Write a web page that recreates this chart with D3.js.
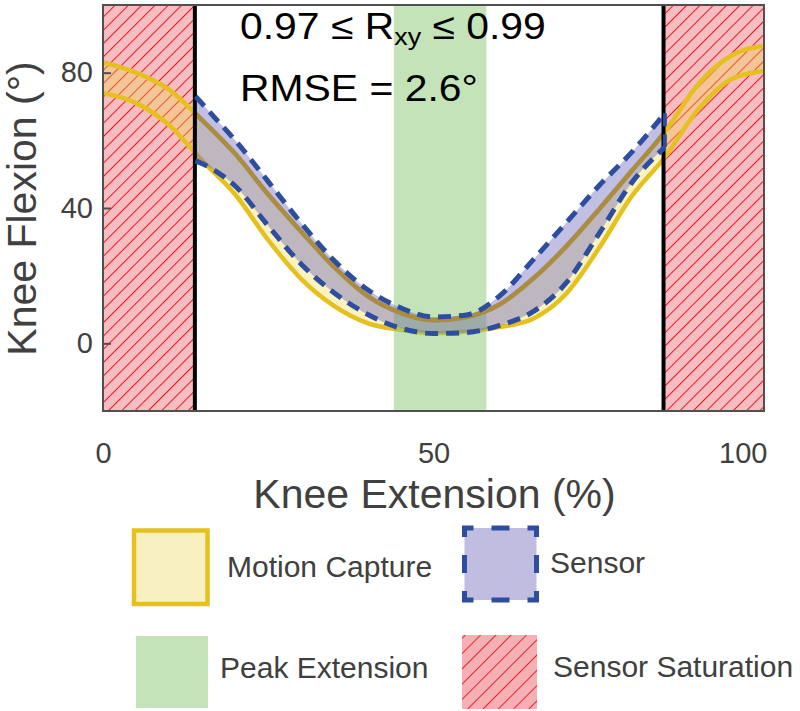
<!DOCTYPE html>
<html><head><meta charset="utf-8">
<script src="https://cdn.jsdelivr.net/npm/d3@7"></script>
<style>body{margin:0;background:#fff} svg{display:block}</style>
</head><body>
<svg id="chart" width="800" height="711"></svg>
<script>
// ---------- data ----------
const xMocap      = [0, 5, 10, 15, 20, 25, 30, 35, 40, 45, 50, 55, 60, 65, 70, 75, 80, 85, 90, 95, 100];
const mocapUpper  = [83, 80, 75, 66, 56, 44, 33, 22.5, 14, 9, 6.8, 7.8, 11.5, 19, 28.5, 39.5, 51, 62.5, 76.5, 85, 88];
const mocapLower  = [74, 71, 64.5, 54, 44, 30.5, 19, 11, 6, 4, 3, 3.5, 4.8, 7.2, 14.5, 28, 43.5, 55, 69, 78, 80.5];
const xSensor     = [14, 17, 20, 25, 30, 35, 40, 45, 50, 55, 60, 65, 70, 75, 80, 85];
const sensorUpper = [73, 66.5, 60, 47.8, 35.5, 24.4, 15.9, 10.5, 7.8, 8.4, 14, 24.5, 35.5, 46.5, 56.5, 68];
const sensorLower = [54, 51, 46.5, 34.7, 23.4, 14.9, 8.6, 4.5, 2.9, 3.2, 5.3, 9.3, 17.7, 32.3, 47.5, 58];
const peakExtension   = [44, 58];
const saturationLeft  = [0, 13.9];
const saturationRight = [84.8, 100];
const xTicks = [0, 50, 100];
const yTicks = [0, 40, 80];
const xDomain = [0, 100];
const yDomain = [-20, 100];
const xLabel = "Knee Extension (%)";
const yLabel = "Knee Flexion (°)";
const legendLabels = ["Motion Capture", "Sensor", "Peak Extension", "Sensor Saturation"];

// ---------- styles ----------
const FONT = "'Liberation Sans', Arial, Helvetica, sans-serif";
const YELLOW = "#E6C01E", BLUE = "#2D4E9E", BROWN = "#AA8C42", TXT = "#404040";

const svg = d3.select("#chart");
const x = d3.scaleLinear().domain(xDomain).range([103, 764]);
const y = d3.scaleLinear().domain(yDomain).range([411, 5]);

const defs = svg.append("defs");
defs.append("clipPath").attr("id", "plotclip").append("rect")
  .attr("x", x(0)).attr("y", y(100)).attr("width", x(100) - x(0)).attr("height", y(-20) - y(100));
defs.append("clipPath").attr("id", "sensorclip").append("rect")
  .attr("x", x(xSensor[0])).attr("y", y(100)).attr("width", x(xSensor[xSensor.length-1]) - x(xSensor[0]))
  .attr("height", y(-20) - y(100));
function hatch(id, s, w) {
  const p = defs.append("pattern").attr("id", id).attr("patternUnits", "userSpaceOnUse")
    .attr("width", s).attr("height", s).attr("patternTransform", "rotate(45)");
  p.append("line").attr("x1", 0).attr("y1", 0).attr("x2", 0).attr("y2", s)
    .attr("stroke", "#E8141E").attr("stroke-width", w);
}
hatch("hatchPlot", 9.4, 2);
hatch("hatchLeg", 10.8, 1.8);

const plot = svg.append("g").attr("clip-path", "url(#plotclip)");

// saturation regions
[saturationLeft, saturationRight].forEach(r => {
  plot.append("rect").attr("x", x(r[0])).attr("y", y(100)).attr("width", x(r[1]) - x(r[0]))
    .attr("height", y(-20) - y(100)).attr("fill", "#F7BDC1");
  plot.append("rect").attr("x", x(r[0])).attr("y", y(100)).attr("width", x(r[1]) - x(r[0]))
    .attr("height", y(-20) - y(100)).attr("fill", "url(#hatchPlot)");
});

// motion capture band
const mocap = xMocap.map((d, i) => ({x: d, lo: mocapLower[i], hi: mocapUpper[i]}));
const curve = d3.curveMonotoneX;
plot.append("path").datum(mocap)
  .attr("d", d3.area().x(d => x(d.x)).y0(d => y(d.lo)).y1(d => y(d.hi)).curve(curve))
  .attr("fill", "#F0D83C").attr("fill-opacity", 0.32);
["hi", "lo"].forEach(k => {
  plot.append("path").datum(mocap)
    .attr("d", d3.line().x(d => x(d.x)).y(d => y(d[k])).curve(curve))
    .attr("fill", "none").attr("stroke", YELLOW).attr("stroke-width", 4.5);
});

// peak extension band
plot.append("rect").attr("x", x(peakExtension[0])).attr("y", y(100))
  .attr("width", x(peakExtension[1]) - x(peakExtension[0])).attr("height", y(-20) - y(100))
  .attr("fill", "#8CC873").attr("fill-opacity", 0.5);

// sensor band fill
const sensor = xSensor.map((d, i) => ({x: d, lo: sensorLower[i], hi: sensorUpper[i]}));
plot.append("path").datum(sensor)
  .attr("d", d3.area().x(d => x(d.x)).y0(d => y(d.lo)).y1(d => y(d.hi)).curve(curve))
  .attr("fill", "#6E66BE").attr("fill-opacity", 0.42);

// motion capture upper bound as seen through the sensor band
plot.append("g").attr("clip-path", "url(#sensorclip)").append("path").datum(mocap)
  .attr("d", d3.line().x(d => x(d.x)).y(d => y(d.hi)).curve(curve))
  .attr("fill", "none").attr("stroke", BROWN).attr("stroke-width", 4.5);

// saturation boundaries
[saturationLeft[1], saturationRight[0]].forEach(v => {
  plot.append("line").attr("x1", x(v)).attr("x2", x(v)).attr("y1", y(100)).attr("y2", y(-20))
    .attr("stroke", "#000").attr("stroke-width", 4);
});

// sensor dashed bounds
["hi", "lo"].forEach(k => {
  plot.append("path").datum(sensor)
    .attr("d", d3.line().x(d => x(d.x)).y(d => y(d[k])).curve(curve))
    .attr("fill", "none").attr("stroke", BLUE).attr("stroke-width", 5)
    .attr("stroke-dasharray", "13,8");
});
plot.append("line").attr("x1", x(xSensor[xSensor.length-1])).attr("x2", x(xSensor[xSensor.length-1]))
  .attr("y1", y(sensorUpper[sensorUpper.length-1])).attr("y2", y(sensorLower[sensorLower.length-1]))
  .attr("stroke", BLUE).attr("stroke-width", 4).attr("stroke-dasharray", "13,8");

// axes
svg.append("rect").attr("x", x(0)).attr("y", y(100)).attr("width", x(100) - x(0))
  .attr("height", y(-20) - y(100)).attr("fill", "none").attr("stroke", "#505050").attr("stroke-width", 2);

const yAxis = svg.append("g").attr("transform", `translate(${x(0)},0)`)
  .call(d3.axisLeft(y).tickValues(yTicks).tickSizeInner(-8).tickSizeOuter(0).tickPadding(10));
yAxis.select(".domain").remove();
yAxis.selectAll("line").attr("stroke", "#505050").attr("stroke-width", 2);
yAxis.selectAll("text").attr("font-family", FONT).attr("font-size", 29).attr("fill", TXT);

const xAxis = svg.append("g").attr("transform", `translate(0,${y(-20)})`)
  .call(d3.axisBottom(x).tickValues(xTicks).tickSize(0).tickPadding(31));
xAxis.select(".domain").remove();
xAxis.selectAll("text").attr("font-family", FONT).attr("font-size", 29).attr("fill", TXT)
  .attr("text-anchor", d => d === xDomain[1] ? "end" : "middle")
  .attr("dx", d => d === xDomain[1] ? 3 : 0);

svg.append("text").attr("x", 434.5).attr("y", 508).attr("text-anchor", "middle")
  .attr("font-family", FONT).attr("font-size", 41).attr("fill", TXT).text(xLabel);
svg.append("text").attr("transform", "translate(36,208.5) rotate(-90)").attr("text-anchor", "middle")
  .attr("font-family", FONT).attr("font-size", 41).attr("fill", TXT).text(yLabel);

// annotation
const ann = svg.append("g").attr("font-family", FONT).attr("fill", "#000");
const t1 = ann.append("text").attr("transform", "translate(240,39) scale(1.12,1)").attr("font-size", 36.5);
t1.append("tspan").text("0.97 ≤ R");
t1.append("tspan").attr("font-size", 24).attr("dy", 6).text("xy");
t1.append("tspan").attr("dy", -6).text(" ≤ 0.99");
ann.append("text").attr("transform", "translate(240,101) scale(1.12,1)").attr("font-size", 36.5)
  .text("RMSE = 2.6°");

// legend
const leg = svg.append("g");
leg.append("rect").attr("x", 134).attr("y", 530.5).attr("width", 73.5).attr("height", 73.5)
  .attr("fill", "#F8F0C0").attr("stroke", YELLOW).attr("stroke-width", 4.5);
leg.append("rect").attr("x", 464.5).attr("y", 528).attr("width", 72).attr("height", 72)
  .attr("fill", "#C0BDE0").attr("stroke", BLUE).attr("stroke-width", 5)
  .attr("stroke-dasharray", "18,18").attr("stroke-dashoffset", 9);
leg.append("rect").attr("x", 136).attr("y", 636).attr("width", 72).attr("height", 72).attr("fill", "#C5E3B8");
leg.append("rect").attr("x", 462).attr("y", 635).attr("width", 75).attr("height", 74).attr("fill", "#F6AFB2");
leg.append("rect").attr("x", 462).attr("y", 635).attr("width", 75).attr("height", 74).attr("fill", "url(#hatchLeg)");
const legPos = [[227, 577], [550, 573], [220, 678], [553, 677]];
legendLabels.forEach((l, i) => {
  leg.append("text").attr("x", legPos[i][0]).attr("y", legPos[i][1])
    .attr("font-family", FONT).attr("font-size", 30).attr("fill", TXT).text(l);
});
</script>
</body></html>
